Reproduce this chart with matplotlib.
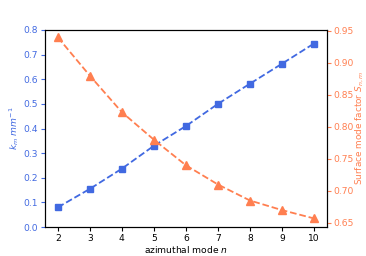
import numpy as np
import matplotlib
matplotlib.use("Agg")
import matplotlib.pyplot as plt

modes = [2, 3, 4, 5, 6, 7, 8, 9, 10]
k_m = [0.080, 0.155, 0.237, 0.330, 0.410, 0.500, 0.582, 0.663, 0.745]
s_factor = [0.940, 0.880, 0.823, 0.780, 0.740, 0.710, 0.685, 0.670, 0.657]

c1 = "royalblue"
c2 = "coral"

plt.rcParams["font.size"] = 6.6

fig, ax1 = plt.subplots(figsize=(3.66, 2.56), dpi=100)
ax1.plot(modes, k_m, "s--", color=c1, markersize=5, linewidth=1.3)
ax1.set_ylim(0, 0.8)
ax1.set_xticks(modes)
ax1.set_xlabel("azimuthal mode $n$", labelpad=1)
ax1.set_ylabel("$k_m$ $mm^{-1}$", color=c1, labelpad=2)
ax1.tick_params(axis="y", colors=c1, length=3, pad=2)
ax1.tick_params(axis="x", length=3, pad=2)

ax2 = ax1.twinx()
ax2.plot(modes, s_factor, "^--", color=c2, markersize=5.5, linewidth=1.3)
ax2.set_ylim(0.6435, 0.9515)
ax2.set_ylabel("Surface mode factor $S_{n,m}$", color=c2, labelpad=0, fontsize=6.4)
ax2.tick_params(axis="y", colors=c2, length=3, pad=1.5)

fig.subplots_adjust(left=0.123, right=0.893, top=0.883, bottom=0.113)
fig.savefig("out.png")
